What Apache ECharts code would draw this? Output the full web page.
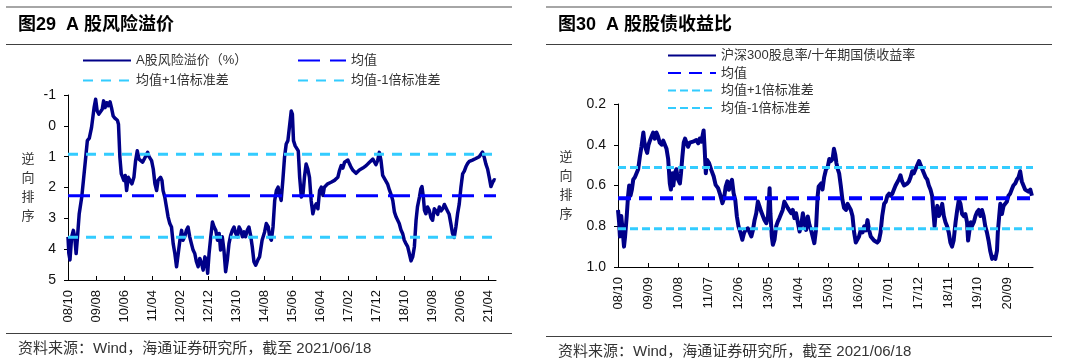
<!DOCTYPE html>
<html><head><meta charset="utf-8">
<script src="https://cdn.jsdelivr.net/npm/echarts@6/dist/echarts.min.js"></script>
<style>
html,body{margin:0;padding:0;background:#fff;}
#wrap{width:1080px;height:364px;position:relative;}
#left,#right{position:absolute;top:0;width:540px;height:364px;}
#left{left:0;} #right{left:540px;}
</style>
</head><body>
<div id="wrap"><div id="left"></div><div id="right"></div></div>
<script>
// ---------- data: months since 2008/10 ----------
const riskMonths = [0,0.3,0.7,1.3,1.9,2.4,2.9,3.3,4.0,4.9,5.5,6.2,6.9,7.6,8.4,9.3,9.85,10.4,11.0,11.6,12.2,12.7,13.2,13.8,14.4,15.0,15.5,16.1,16.7,17.6,18.0,18.5,19.0,19.5,19.9,20.4,20.9,21.5,22.1,22.8,23.5,24.1,24.7,25.3,25.9,26.6,27.2,27.8,28.4,28.9,29.8,30.4,31.0,31.6,32.1,33.0,33.5,33.9,34.5,35.1,35.7,36.3,36.9,37.5,38.1,38.7,39.3,39.9,40.5,41.0,41.6,42.2,42.8,43.4,44.0,44.6,45.2,45.8,46.4,47.0,47.6,48.2,48.8,49.3,49.8,50.3,50.9,51.5,52.1,52.7,53.3,53.9,54.4,55.0,55.6,56.2,56.8,57.4,58.0,58.6,59.2,59.8,60.4,61.0,61.6,62.2,62.8,63.3,63.9,64.5,65.1,65.7,66.3,66.9,67.7,68.3,69.2,70.1,70.7,71.4,71.9,72.5,73.1,73.7,74.3,74.9,75.4,76.0,76.6,77.2,77.8,78.4,79.0,79.6,80.0,80.4,81.0,81.6,82.1,82.6,83.2,83.8,84.3,84.9,85.5,86.1,86.7,87.3,87.9,88.5,89.1,89.7,90.3,90.9,91.4,92.1,92.6,93.2,93.8,94.4,95.0,95.6,96.2,96.8,97.4,98.0,98.6,99.2,99.8,100.4,100.9,101.5,102.1,102.7,103.3,103.9,105.1,106.3,107.5,108.7,109.3,109.8,110.4,111.0,111.6,112.2,112.8,113.4,114.0,114.6,115.2,115.8,116.4,117.0,117.6,118.1,118.7,119.3,119.9,120.5,121.1,121.7,122.3,122.9,123.5,124.1,124.6,125.3,125.8,126.2,126.7,127.1,127.6,128.2,128.8,129.4,130.0,130.6,131.2,131.8,132.4,133.0,133.6,134.2,134.8,135.3,135.9,136.5,137.1,137.7,138.3,138.9,139.5,140.1,140.7,141.3,141.9,142.5,143.1,143.7,144.2,144.8,145.4,146.0,146.6,147.2,147.8,148.4,149.0,149.6,150.2,150.8,151.4,152.0,152.4];
const riskValues = [3.60,4.14,4.35,3.60,3.39,3.60,4.14,3.71,2.85,2.31,1.77,1.13,0.48,0.40,0.05,-0.59,-0.86,-0.48,-0.38,-0.38,-0.54,-0.81,-0.59,-0.75,-0.65,-0.78,-0.59,-0.32,-0.25,-0.18,-0.05,1.02,1.56,1.67,1.77,1.61,2.10,1.67,1.77,1.88,1.67,1.13,0.81,1.08,1.08,1.18,1.13,0.97,0.86,1.00,1.13,1.40,1.88,2.10,1.77,1.67,1.77,2.10,2.31,2.63,2.96,3.17,3.28,3.82,4.14,4.57,4.14,3.71,3.39,3.71,3.60,3.39,3.28,3.60,3.82,4.03,4.14,4.41,4.57,4.30,4.46,4.68,4.25,4.35,4.78,4.14,3.60,3.12,3.28,3.39,3.71,3.49,4.03,3.60,4.03,4.73,4.35,3.82,3.55,3.39,3.28,3.49,3.60,3.28,3.39,3.60,3.44,3.60,3.39,3.28,3.55,3.92,4.41,4.52,4.35,4.25,3.71,3.44,3.17,3.28,3.60,3.71,3.28,2.42,2.10,1.99,2.20,2.42,1.77,1.02,0.59,0.48,0.43,-0.48,-0.38,0.48,0.65,0.59,0.81,1.67,2.31,2.20,1.67,1.24,1.40,1.67,2.42,2.85,2.63,2.53,2.69,2.10,1.99,2.26,1.99,1.97,1.88,1.90,1.83,1.77,1.77,1.83,1.67,1.45,1.29,1.37,1.18,1.13,1.11,1.24,1.34,1.43,1.47,1.54,1.49,1.43,1.37,1.29,1.18,1.08,1.18,1.26,1.13,0.86,1.13,1.61,1.67,1.80,1.90,2.08,2.23,2.42,2.80,2.96,2.94,3.17,3.37,3.49,3.71,3.82,3.92,4.14,4.38,4.25,3.92,3.06,2.63,2.31,2.04,1.97,2.31,2.74,2.85,2.63,2.74,2.98,3.06,2.69,2.76,2.87,2.63,2.76,2.69,2.55,2.61,2.76,2.87,3.17,3.49,3.62,3.28,2.85,2.53,1.99,1.56,1.47,1.32,1.22,1.15,1.19,1.11,1.11,1.06,1.04,1.00,0.96,0.85,1.02,1.24,1.40,1.67,1.97,1.83,1.75,1.77];
const riskMean = 2.27;
const riskPlusStd = 3.61;
const riskMinusStd = 0.92;
const riskTicks = [0,10,20,30,40,50,60,70,80,90,100,110,120,130,140,150];
const riskEnd = 152.6;

const yieldMonths = [0,0.4,0.7,1.2,1.7,2.2,2.6,3.2,3.7,4.1,4.6,5.1,5.6,6.2,6.8,7.4,8.0,8.6,9.3,9.7,10.2,10.7,11.2,11.7,12.3,12.9,13.5,14.1,14.7,15.3,16.0,16.6,17.2,17.8,18.4,19.0,19.4,19.9,20.3,20.8,21.4,22.0,22.7,23.1,23.6,24.1,24.6,25.1,25.7,26.3,27.5,28.7,29.4,30.0,30.6,31.4,31.8,32.2,32.7,33.4,34.2,35.1,35.8,36.7,37.5,38.3,38.9,39.5,40.1,40.7,41.2,41.8,42.4,43.0,43.6,44.2,44.8,45.6,46.2,46.8,47.6,48.3,48.9,49.5,50.1,50.7,51.3,51.9,52.5,53.1,53.7,54.4,55.0,55.6,55.9,56.4,56.8,57.4,58.0,58.6,59.2,59.8,60.4,61.0,61.7,62.3,62.9,63.5,64.1,64.7,65.3,66.0,66.6,67.2,67.8,68.4,69.0,69.6,70.2,70.8,71.4,72.0,72.6,73.2,73.6,74.0,74.5,75.0,75.6,76.3,76.9,77.5,78.1,78.7,79.2,79.7,80.1,80.6,81.1,81.7,82.3,82.9,83.6,84.2,84.8,85.4,86.0,86.6,87.2,87.8,88.4,89.0,89.7,90.3,90.9,91.5,92.1,92.7,93.3,93.9,94.5,95.1,95.7,96.3,96.9,97.6,98.2,98.8,99.4,100.0,100.6,101.2,101.8,102.4,103.0,103.6,104.2,104.9,105.5,106.1,106.7,107.3,107.9,108.5,109.1,109.7,110.4,111.0,111.6,112.2,112.8,113.4,114.0,114.6,115.2,115.6,116.1,116.4,117.1,117.7,118.3,118.9,119.5,120.1,120.7,121.3,121.9,122.5,123.1,123.8,124.4,125.0,125.6,126.2,126.8,127.4,128.0,128.4,128.9,129.4,129.8,130.5,131.1,131.7,132.3,132.9,133.5,134.1,134.7,135.3,135.9,136.5,137.2,137.8,138.4,139.0,139.3,139.8,140.2,140.8,141.4,142.0,142.6,143.2,143.8,144.4,145.0,145.7,146.3,146.9,147.5,148.1,148.7,149.3,149.9,150.5,151.2,151.8];
const yieldValues = [0.72,0.78,0.85,0.75,0.82,0.90,0.85,0.75,0.65,0.60,0.65,0.62,0.57,0.56,0.54,0.52,0.46,0.41,0.34,0.39,0.42,0.44,0.40,0.38,0.36,0.34,0.37,0.34,0.36,0.39,0.40,0.38,0.38,0.42,0.47,0.59,0.62,0.54,0.60,0.54,0.52,0.57,0.59,0.54,0.46,0.39,0.37,0.39,0.41,0.39,0.385,0.377,0.393,0.369,0.385,0.33,0.425,0.54,0.475,0.49,0.523,0.556,0.597,0.613,0.646,0.687,0.662,0.605,0.58,0.621,0.589,0.572,0.638,0.67,0.752,0.801,0.826,0.866,0.834,0.818,0.81,0.801,0.85,0.818,0.769,0.736,0.679,0.703,0.728,0.736,0.769,0.785,0.752,0.613,0.736,0.85,0.891,0.866,0.801,0.777,0.76,0.769,0.72,0.679,0.687,0.711,0.72,0.736,0.72,0.76,0.736,0.785,0.826,0.793,0.736,0.785,0.818,0.752,0.793,0.818,0.818,0.883,0.818,0.654,0.605,0.60,0.59,0.62,0.56,0.52,0.51,0.47,0.48,0.47,0.42,0.45,0.49,0.52,0.54,0.60,0.67,0.71,0.72,0.69,0.69,0.72,0.75,0.83,0.88,0.88,0.85,0.82,0.83,0.80,0.82,0.77,0.82,0.85,0.86,0.87,0.87,0.88,0.87,0.83,0.75,0.69,0.68,0.65,0.64,0.65,0.64,0.62,0.60,0.60,0.57,0.55,0.58,0.60,0.60,0.59,0.58,0.56,0.53,0.54,0.52,0.52,0.48,0.50,0.52,0.54,0.56,0.57,0.60,0.62,0.65,0.72,0.80,0.75,0.70,0.75,0.73,0.69,0.75,0.78,0.80,0.83,0.88,0.90,0.87,0.78,0.72,0.67,0.69,0.74,0.75,0.74,0.78,0.87,0.82,0.78,0.80,0.78,0.75,0.73,0.72,0.75,0.72,0.75,0.80,0.83,0.87,0.92,0.96,0.95,0.96,0.92,0.83,0.75,0.69,0.74,0.70,0.69,0.68,0.65,0.64,0.62,0.60,0.59,0.57,0.56,0.53,0.58,0.60,0.62,0.62,0.63,0.62,0.65];
const yieldMean = 0.662;
const yieldPlusStd = 0.812;
const yieldMinusStd = 0.512;
const yieldTicks = [0,11,22,33,44,55,66,77,88,99,110,121,132,143];
const yieldEnd = 152.2;

// ---------- helpers ----------
const FONT = "'Liberation Sans', 'Noto Sans CJK SC', sans-serif";
function monthLabel(m) {
  const t = 2008 * 12 + 9 + Math.round(m);
  const y = Math.floor(t / 12) % 100, mo = t % 12 + 1;
  return String(y).padStart(2, '0') + '/' + String(mo).padStart(2, '0');
}
function pairs(xs, ys) { return xs.map((x, i) => [x, ys[i]]); }
function frame(footerY) {
  return [
    {type:'line', shape:{x1:6,y1:7,x2:512,y2:7}, style:{stroke:'#a6a6a6', lineWidth:2}},
    {type:'line', shape:{x1:6,y1:44.5,x2:512,y2:44.5}, style:{stroke:'#404040', lineWidth:1}},
    {type:'line', shape:{x1:6,y1:footerY,x2:512,y2:footerY}, style:{stroke:'#404040', lineWidth:1}},
    {type:'text', left:18, top:footerY + 8, style:{text:'资料来源：Wind，海通证券研究所，截至 2021/06/18', font:'15px ' + FONT, fill:'#333'}}
  ];
}
function xAxisCfg(end, ticks) {
  return {
    type:'value', min:0, max:end,
    splitLine:{show:false},
    axisLine:{onZero:false, lineStyle:{color:'#000', width:1}},
    axisTick:{show:true, inside:true, length:4, customValues:ticks, lineStyle:{color:'#000'}},
    axisLabel:{customValues:ticks, rotate:90, margin:10, fontSize:13, color:'#111', fontFamily:FONT, formatter:monthLabel}
  };
}
function yAxisCfg(min, max, interval, gap, pad, fmt) {
  return {
    type:'value', inverse:true, min:min, max:max, interval:interval,
    name:'逆\n向\n排\n序', nameLocation:'middle', nameGap:gap, nameRotate:0,
    nameTextStyle:{fontSize:13, lineHeight:19, color:'#333', align:'center', verticalAlign:'middle', padding:[0,0,pad,0], fontFamily:FONT},
    splitLine:{show:false},
    axisLine:{show:true, lineStyle:{color:'#000', width:1}},
    axisTick:{show:true, length:4, lineStyle:{color:'#000'}},
    axisLabel:{fontSize:14, color:'#111', margin:12, fontFamily:FONT, formatter:fmt}
  };
}
const legendText = {fontSize:13, color:'#333', fontFamily:FONT};
const legendBase = {orient:'vertical', itemWidth:48, itemHeight:14, padding:0, textStyle:legendText, selectedMode:false, itemStyle:{opacity:0, borderWidth:0}};

// ---------- left chart ----------
const left = echarts.init(document.getElementById('left'), null, {renderer:'canvas'});
left.setOption({
  animation:false,
  backgroundColor:'#fff',
  title:{text:'图29  A 股风险溢价', left:18, top:16, padding:0, textStyle:{fontSize:18, fontWeight:'bold', color:'#000', fontFamily:FONT}},
  legend:[
    Object.assign({data:['A股风险溢价（%）','均值+1倍标准差'], left:82, top:54, itemGap:7}, legendBase),
    Object.assign({data:['均值','均值-1倍标准差'], left:297, top:54, itemGap:7}, legendBase)
  ],
  grid:{left:68, top:95, width:428, height:185},
  xAxis:xAxisCfg(riskEnd, riskTicks),
  yAxis:yAxisCfg(-1, 5, 1, 40, 18, v => String(v)),
  graphic:frame(333.5),
  series:[
    {type:'line', name:'A股风险溢价（%）', data:pairs(riskMonths, riskValues), symbol:'none',
     lineStyle:{color:'#000088', width:3.5, join:'round'}, itemStyle:{color:'#000088'}},
    {type:'line', name:'均值', data:[[0,riskMean],[riskEnd,riskMean]], symbol:'none',
     lineStyle:{color:'#0000ff', width:3, type:[22,10]}, itemStyle:{color:'#0000ff'}},
    {type:'line', name:'均值+1倍标准差', data:[[0,riskPlusStd],[riskEnd,riskPlusStd]], symbol:'none',
     lineStyle:{color:'#33ccff', width:3, type:[10,8]}, itemStyle:{color:'#33ccff'}},
    {type:'line', name:'均值-1倍标准差', data:[[0,riskMinusStd],[riskEnd,riskMinusStd]], symbol:'none',
     lineStyle:{color:'#33ccff', width:3, type:[10,8]}, itemStyle:{color:'#33ccff'}}
  ]
});

// ---------- right chart ----------
const right = echarts.init(document.getElementById('right'), null, {renderer:'canvas'});
right.setOption({
  animation:false,
  backgroundColor:'#fff',
  title:{text:'图30  A 股股债收益比', left:18, top:16, padding:0, textStyle:{fontSize:18, fontWeight:'bold', color:'#000', fontFamily:FONT}},
  legend:Object.assign({data:['沪深300股息率/十年期国债收益率','均值','均值+1倍标准差','均值-1倍标准差'], left:127, top:49, itemGap:4.5}, legendBase),
  grid:{left:78, top:104, width:415, height:163},
  xAxis:xAxisCfg(yieldEnd, yieldTicks),
  yAxis:yAxisCfg(0.2, 1.0, 0.2, 52, 12, v => v.toFixed(1)),
  graphic:frame(336.5),
  series:[
    {type:'line', name:'沪深300股息率/十年期国债收益率', data:pairs(yieldMonths, yieldValues), symbol:'none',
     lineStyle:{color:'#000088', width:4, join:'round'}, itemStyle:{color:'#000088'}},
    {type:'line', name:'均值', data:[[0,yieldMean],[yieldEnd,yieldMean]], symbol:'none',
     lineStyle:{color:'#0000ff', width:4, type:[13,8]}, itemStyle:{color:'#0000ff'}},
    {type:'line', name:'均值+1倍标准差', data:[[0,yieldPlusStd],[yieldEnd,yieldPlusStd]], symbol:'none',
     lineStyle:{color:'#33ccff', width:3, type:[8,4]}, itemStyle:{color:'#33ccff'}},
    {type:'line', name:'均值-1倍标准差', data:[[0,yieldMinusStd],[yieldEnd,yieldMinusStd]], symbol:'none',
     lineStyle:{color:'#33ccff', width:3, type:[8,4]}, itemStyle:{color:'#33ccff'}}
  ]
});
</script>
</body></html>
